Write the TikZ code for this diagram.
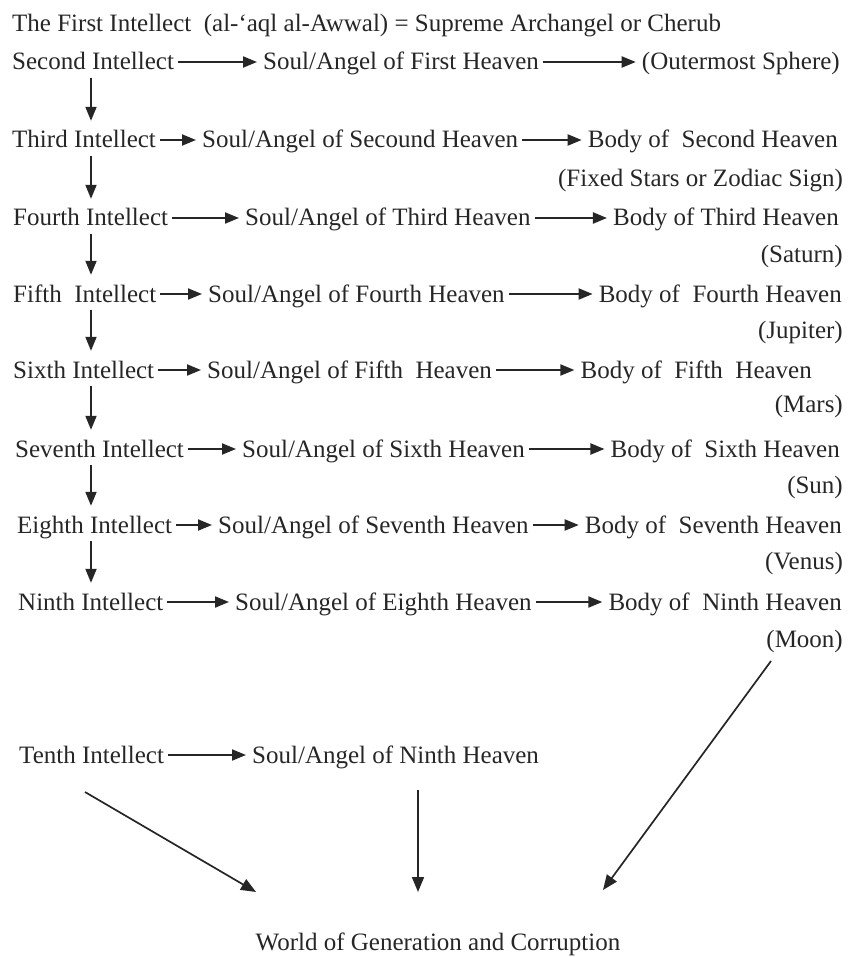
\documentclass[tikz,border=0pt]{standalone}
\usepackage{fontspec}
\setmainfont{Liberation Serif}
\usetikzlibrary{arrows.meta,calc}
\begin{document}
\begin{tikzpicture}[x=1pt,y=-1pt,
  lbl/.style={inner sep=0pt, text height=19pt, text depth=3pt, font=\fontsize{25}{30}\selectfont, text=black!85},
  harr/.style={draw=black!85, line width=2pt, -{Triangle[length=14pt,width=11pt]}, shorten <=4pt, shorten >=6pt},
  varr/.style={draw=black!85, line width=2pt, -{Triangle[length=14pt,width=11pt]}, shorten <=5pt, shorten >=8pt},
  darr/.style={draw=black!85, line width=1.7pt, -{Triangle[length=15pt,width=12pt]}}
]
\useasboundingbox (0,0) rectangle (854,957);
\coordinate (ax) at (91,0);

\node[lbl, anchor=base west] (l1) at (12,32) {The First Intellect\ \ (al-‘aql al-Awwal) = Supreme Archangel or Cherub};

\node[lbl, anchor=base west] (l2) at (12,70) {Second Intellect};
\node[lbl, anchor=base west] (m2) at (263,70) {Soul/Angel of First Heaven};
\node[lbl, anchor=base east] (r2) at (840,70) {(Outermost Sphere)};

\node[lbl, anchor=base west] (l3) at (12,148) {Third Intellect};
\node[lbl, anchor=base west] (m3) at (202,148) {Soul/Angel of Secound Heaven};
\node[lbl, anchor=base east] (r3) at (838,148) {Body of\ \ Second Heaven};
\node[lbl, anchor=base east] (p3) at (843,187) {(Fixed Stars or Zodiac Sign)};

\node[lbl, anchor=base west] (l4) at (13,226) {Fourth Intellect};
\node[lbl, anchor=base west] (m4) at (245,226) {Soul/Angel of Third Heaven};
\node[lbl, anchor=base east] (r4) at (839,226) {Body of Third Heaven};
\node[lbl, anchor=base east] (p4) at (843,262) {(Saturn)};

\node[lbl, anchor=base west] (l5) at (13,302) {Fifth\ \ Intellect};
\node[lbl, anchor=base west] (m5) at (208,302) {Soul/Angel of Fourth Heaven};
\node[lbl, anchor=base east] (r5) at (842,302) {Body of\ \ Fourth Heaven};
\node[lbl, anchor=base east] (p5) at (843,338) {(Jupiter)};

\node[lbl, anchor=base west] (l6) at (13,378) {Sixth Intellect};
\node[lbl, anchor=base west] (m6) at (207,378) {Soul/Angel of Fifth\ \ Heaven};
\node[lbl, anchor=base east] (r6) at (812,378) {Body of\ \ Fifth\ \ Heaven};
\node[lbl, anchor=base east] (p6) at (843,412) {(Mars)};

\node[lbl, anchor=base west] (l7) at (15,457) {Seventh Intellect};
\node[lbl, anchor=base west] (m7) at (242,457) {Soul/Angel of Sixth Heaven};
\node[lbl, anchor=base east] (r7) at (840,457) {Body of\ \ Sixth Heaven};
\node[lbl, anchor=base east] (p7) at (843,493) {(Sun)};

\node[lbl, anchor=base west] (l8) at (17,533) {Eighth Intellect};
\node[lbl, anchor=base west] (m8) at (218,533) {Soul/Angel of Seventh Heaven};
\node[lbl, anchor=base east] (r8) at (842,533) {Body of\ \ Seventh Heaven};
\node[lbl, anchor=base east] (p8) at (843,569) {(Venus)};

\node[lbl, anchor=base west] (l9) at (18,610) {Ninth Intellect};
\node[lbl, anchor=base west] (m9) at (235,610) {Soul/Angel of Eighth Heaven};
\node[lbl, anchor=base east] (r9) at (842,610) {Body of\ \ Ninth Heaven};
\node[lbl, anchor=base east] (p9) at (843,647) {(Moon)};

\node[lbl, anchor=base west] (l10) at (19,763) {Tenth Intellect};
\node[lbl, anchor=base west] (m10) at (252,763) {Soul/Angel of Ninth Heaven};

\node[lbl, anchor=base] (w) at (438,950) {World of Generation and Corruption};

% horizontal arrows
\foreach \i in {2,...,9}{
  \draw[harr] (l\i) -- (m\i);
  \draw[harr] (m\i) -- (r\i);
}
\draw[harr] (l10) -- (m10);

% vertical arrows
\foreach \a/\b in {2/3,3/4,4/5,5/6,6/7,7/8,8/9}{
  \draw[varr] (l\a.south -| ax) -- (l\b.north -| ax);
}

% bottom arrows
\coordinate (d1s) at (85,792);
\coordinate (d1e) at (256,892);
\coordinate (d2s) at (418,790);
\coordinate (d2e) at (418,892);
\coordinate (d3s) at (771,661);
\coordinate (d3e) at (603,890);
\draw[darr] (d1s) -- (d1e);
\draw[darr] (d2s) -- (d2e);
\draw[darr] (d3s) -- (d3e);
\end{tikzpicture}
\end{document}
